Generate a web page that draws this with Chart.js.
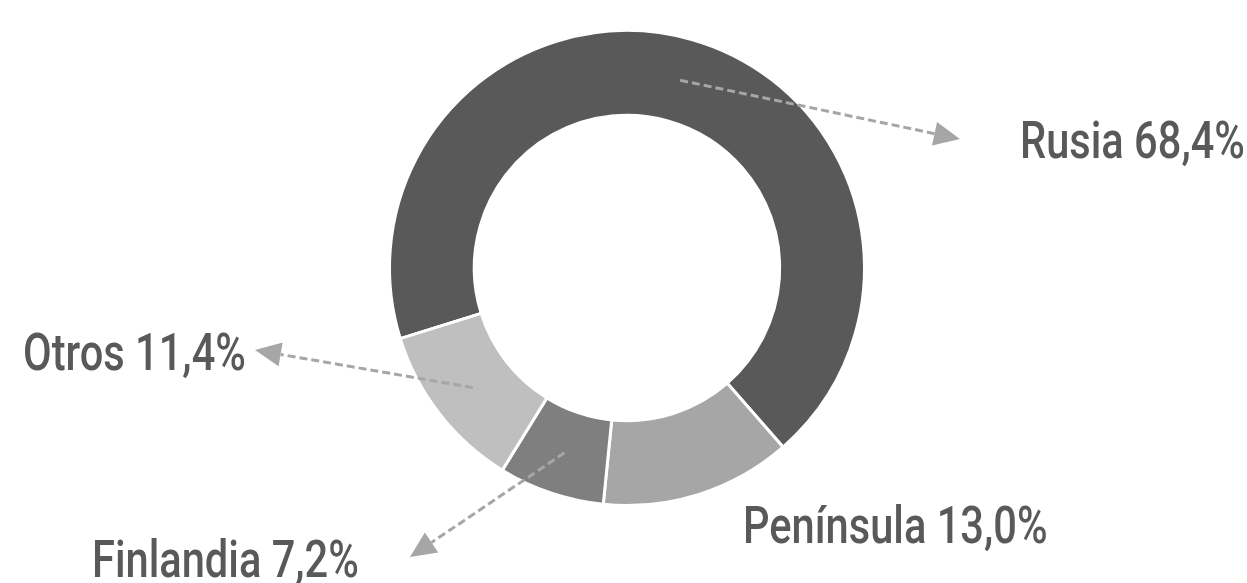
<!DOCTYPE html>
<html lang="es">
<head>
    <meta charset="UTF-8">
    <title>Reparto por origen</title>
    <script src="https://cdn.jsdelivr.net/npm/chart.js"></script>
    <style>
        html, body {
            margin: 0;
            padding: 0;
            background: #ffffff;
        }
        .wrap {
            width: 1247px;
            height: 583px;
        }
    </style>
</head>
<body>
    <div class="wrap">
        <canvas id="grafico"></canvas>
    </div>

    <script>
        // Datos
        const regiones = ["Rusia", "Península", "Finlandia", "Otros"];
        const porcentajes = [68.4, 13.0, 7.2, 11.4];
        const colores = ["#595959", "#a6a6a6", "#7f7f7f", "#bfbfbf"];

        // Posición de cada etiqueta (relativa al centro del anillo) y si lleva flecha
        const etiquetas = [
            { flecha: true,  punta: [333, -129], texto: [393, -110] },
            { flecha: false, punta: null,        texto: [116, 275] },
            { flecha: true,  punta: [-217, 289], texto: [-535, 309] },
            { flecha: true,  punta: [-372, 82],  texto: [-604, 102] }
        ];

        // no hay fuente estrecha instalada: se comprime en horizontal
        const fuente = '500 52px Roboto, "DejaVu Sans", sans-serif';
        const estrecho = 0.8;

        const pluginEtiquetas = {
            id: "etiquetas",
            afterDatasetsDraw(chart) {
                const ctx = chart.ctx;
                const meta = chart.getDatasetMeta(0);
                const data = chart.data.datasets[0].data;
                meta.data.forEach((arc, i) => {
                    const p = arc.getProps(["x", "y", "startAngle", "endAngle", "innerRadius", "outerRadius"], true);
                    const cfg = etiquetas[i];
                    const cx = p.x, cy = p.y;

                    if (cfg.flecha) {
                        const mid = (p.startAngle + p.endAngle) / 2;
                        const r = (p.innerRadius + p.outerRadius) / 2;
                        const x0 = cx + Math.cos(mid) * r;
                        const y0 = cy + Math.sin(mid) * r;
                        const x1 = cx + cfg.punta[0];
                        const y1 = cy + cfg.punta[1];
                        const ang = Math.atan2(y1 - y0, x1 - x0);
                        const largo = 26, ancho = 12;
                        const bx = x1 - Math.cos(ang) * largo;
                        const by = y1 - Math.sin(ang) * largo;

                        ctx.save();
                        ctx.strokeStyle = "#a6a6a6";
                        ctx.lineWidth = 3;
                        ctx.setLineDash([8, 4]);
                        ctx.beginPath();
                        ctx.moveTo(x0, y0);
                        ctx.lineTo(bx, by);
                        ctx.stroke();
                        ctx.setLineDash([]);
                        ctx.fillStyle = "#a6a6a6";
                        ctx.beginPath();
                        ctx.moveTo(x1, y1);
                        ctx.lineTo(bx - Math.sin(ang) * ancho, by + Math.cos(ang) * ancho);
                        ctx.lineTo(bx + Math.sin(ang) * ancho, by - Math.cos(ang) * ancho);
                        ctx.closePath();
                        ctx.fill();
                        ctx.restore();
                    }

                    const txt = chart.data.labels[i] + " " + data[i].toFixed(1).replace(".", ",") + "%";
                    ctx.save();
                    ctx.translate(cx + cfg.texto[0], cy + cfg.texto[1]);
                    ctx.scale(estrecho, 1);
                    ctx.font = fuente;
                    ctx.fillStyle = "#595959";
                    ctx.textAlign = "left";
                    ctx.textBaseline = "alphabetic";
                    ctx.fillText(txt, 0, 0);
                    ctx.restore();
                });
            }
        };

        const ctx = document.getElementById("grafico").getContext("2d");
        const grafico = new Chart(ctx, {
            type: "doughnut",
            data: {
                labels: regiones,
                datasets: [{
                    data: porcentajes,
                    backgroundColor: colores,
                    borderColor: "#ffffff",
                    borderWidth: 3,
                    hoverOffset: 0
                }]
            },
            options: {
                responsive: true,
                maintainAspectRatio: false,
                animation: false,
                cutout: "64.3%",
                rotation: 252.7,
                layout: {
                    padding: { left: 388, right: 381, top: 29, bottom: 76 }
                },
                plugins: {
                    legend: { display: false },
                    tooltip: { enabled: false }
                }
            },
            plugins: [pluginEtiquetas]
        });
    </script>
</body>
</html>
